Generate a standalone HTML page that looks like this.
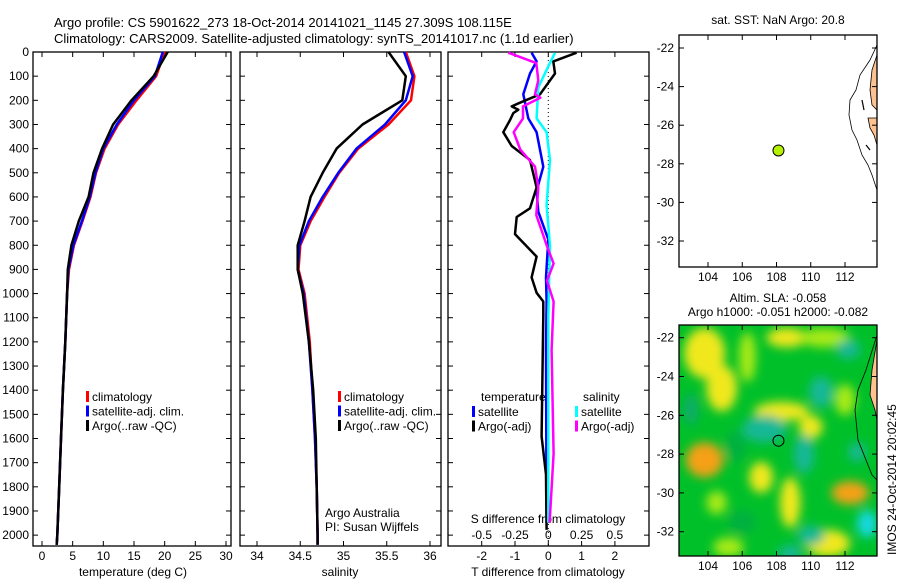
<!DOCTYPE html>
<html><head><meta charset="utf-8">
<style>
html,body{margin:0;padding:0;background:#fff;}
svg{display:block;font-family:"Liberation Sans",sans-serif;}
text{font-size:12px;fill:#000;}
</style></head>
<body>
<svg id="chart" width="900" height="580" viewBox="0 0 900 580" xmlns="http://www.w3.org/2000/svg">
<defs>
<filter id="blur" x="-20%" y="-20%" width="140%" height="140%"><feGaussianBlur stdDeviation="5"/></filter>
<clipPath id="clipMap2"><rect x="679" y="325" width="198" height="231"/></clipPath>
<clipPath id="clipMap1"><rect x="679" y="35" width="198" height="232"/></clipPath>
</defs>
<text x="54" y="27" style="font-size:13px">Argo profile: CS 5901622_273 18-Oct-2014 20141021_1145 27.309S 108.115E</text>
<text x="54" y="43" style="font-size:13px">Climatology: CARS2009. Satellite-adjusted climatology: synTS_20141017.nc (1.1d earlier)</text>
<g id="plots"></g>
<text transform="translate(896,555) rotate(-90)" style="font-size:12px">IMOS 24-Oct-2014 20:02:45</text>
</svg>
<script>
// ---- data ----
const depthTicks=[0,100,200,300,400,500,600,700,800,900,1000,1100,1200,1300,1400,1500,1600,1700,1800,1900,2000];
const tempTicks=[0,5,10,15,20,25,30];
const salTicks=[34,34.5,35,35.5,36];
const tdiffTicks=[-2,-1,0,1,2];
const sdiffTicks=[-0.5,-0.25,0,0.25,0.5];
const sdiffLabels=["-0.5","-0.25","0","0.25","0.5"];
const profDepth=[0,100,200,300,400,500,600,700,800,900,1000,1200,1400,1600,1800,2000,2040];
const tempClim=[20.0,18.6,15.4,12.4,10.2,8.8,7.9,6.6,5.2,4.4,4.1,3.8,3.4,3.1,2.8,2.5,2.4];
const tempSat=[19.7,18.4,15.0,12.2,10.0,8.7,7.8,6.5,5.1,4.3,4.1,3.8,3.4,3.1,2.8,2.5,2.4];
const tempArgo=[20.5,18.2,14.6,11.6,9.8,8.4,7.6,6.0,4.8,4.2,4.1,3.8,3.4,3.1,2.8,2.5,2.4];
const salClim=[35.72,35.82,35.78,35.52,35.17,34.95,34.78,34.62,34.5,34.48,34.55,34.61,34.64,34.67,34.69,34.7,34.7];
const salSat=[35.7,35.8,35.72,35.48,35.15,34.94,34.76,34.6,34.49,34.47,34.54,34.6,34.64,34.67,34.69,34.7,34.7];
const salArgo=[35.52,35.72,35.68,35.22,34.92,34.76,34.62,34.55,34.47,34.47,34.53,34.6,34.65,34.68,34.69,34.7,34.7];
const tArgoDepth=[3,39,89,175,210,225,239,253,282,332,389,447,561,647,683,754,847,933,997,1033,1090,1591,1749,1978];
const tArgoDiff=[0.85,0.15,0.2,-0.25,-0.85,-1.1,-0.9,-1.05,-1.15,-1.35,-1.1,-0.55,-0.35,-0.55,-0.95,-1.0,-0.35,-0.5,-0.35,-0.15,-0.15,-0.2,-0.07,-0.05];
const tSatDepth=[3,39,89,175,275,332,475,575,661,776,933,1033,1234,1949];
const tSatDiff=[-0.5,-0.35,-0.55,-0.75,-0.6,-0.35,-0.15,-0.35,-0.3,0,-0.07,-0.05,-0.07,-0.05];
const sArgoDepth=[3,46,117,175,189,225,275,332,404,475,561,675,804,876,947,1033,1234,1663,1949];
const sArgoDiff=[-0.3,-0.09,-0.075,-0.1,-0.06,-0.19,-0.19,-0.26,-0.21,-0.1,-0.075,-0.09,-0.01,0.04,-0.01,0.04,0.025,0.04,0.01];
const sSatDepth=[3,74,146,275,332,447,633,804,1090,1949];
const sSatDiff=[0.05,-0.0125,-0.075,-0.0875,-0.0125,0.0125,-0.0125,0.0125,0,0];
const lonTicks=[104,106,108,110,112];
const latTicks=[-22,-24,-26,-28,-30,-32];
const argoLon=108.115, argoLat=-27.309;
const slaLon=[103.8,104.8,103.8,106.3,108.3,110.0,107.1,108.8,112.3,111.0,105.2,108.6,110.8,112.0,107.3,109.6,110.6,112.2,112.7,113.3,110.0,108.8,103.0,105.6,104.5,106.0];
const slaLat=[-22.8,-24.6,-28.3,-23.0,-25.8,-26.6,-29.2,-30.5,-30.0,-32.6,-32.8,-22.0,-22.0,-25.2,-26.7,-28.0,-24.8,-22.6,-27.9,-31.6,-32.2,-33.1,-25.7,-27.6,-30.5,-31.5];
const slaVal=[0.65,0.7,1.0,0.35,0.6,0.6,0.6,0.55,1.0,0.65,0.35,0.55,0.4,0.3,-0.65,-0.7,-0.6,-0.6,-0.8,-1.0,-0.55,-0.6,-0.5,-0.2,0.3,-0.2];
const slaRx=[1.2,0.9,1.1,0.5,1.6,0.7,0.7,0.6,1.1,1.3,0.9,1.2,1.5,0.6,1.3,0.6,0.7,0.7,0.5,0.6,0.8,0.7,0.4,0.6,0.6,0.8];
const slaRy=[1.3,1.2,0.9,1.3,0.5,0.6,0.8,1.3,0.6,0.7,0.5,0.5,0.5,0.8,0.7,1.0,0.8,0.5,0.5,0.7,0.5,0.4,0.8,0.8,0.6,0.6];

// ---- helpers ----
const NS="http://www.w3.org/2000/svg";
const root=document.getElementById('plots');
function mk(tag,attrs,parent){const e=document.createElementNS(NS,tag);for(const k in attrs)e.setAttribute(k,attrs[k]);(parent||root).appendChild(e);return e;}
function txt(x,y,s,anchor,parent){const t=mk('text',{x:x,y:y,'text-anchor':anchor||'start'},parent);t.textContent=s;return t;}
const yTop=52,yBot=546,dMax=2045;
const yD=d=>yTop+d/dMax*(yBot-yTop);
function lin(d0,d1,p0,p1){return v=>p0+(v-d0)/(d1-d0)*(p1-p0);}
function line(xs,ds,xf,color,w,name,parent){
  const pts=xs.map((v,i)=>xf(v).toFixed(1)+','+yD(ds[i]).toFixed(1)).join(' ');
  const p=mk('polyline',{points:pts,fill:'none',stroke:color,'stroke-width':w,'stroke-linejoin':'round'},parent);
  
  
  return p;
}
function frame(x0,x1,name){
  const g=mk('g',{});
  
  
  mk('rect',{x:x0,y:yTop,width:x1-x0,height:yBot-yTop,fill:'none',stroke:'#000','stroke-width':1.3},g);
  depthTicks.forEach(d=>{mk('line',{x1:x0,x2:x0+5,y1:yD(d),y2:yD(d),stroke:'#000'},g);mk('line',{x1:x1,x2:x1-5,y1:yD(d),y2:yD(d),stroke:'#000'},g);});
  return g;
}
function legend(x,y,items,parent){
  items.forEach((it,i)=>{
    const yy=y+i*14.5;
    const b=mk('rect',{x:x,y:yy-10,width:3,height:11,fill:it[0]},parent);
    
    
    const t=txt(x+6,yy,it[1],'start',parent);
    
    
  });
}

// ---- panel 1: temperature ----
const xT=lin(0,30,42,226);
const g1=frame(33,231,'temperature-panel');
depthTicks.forEach(d=>{txt(29,yD(d)+4,String(d),'end',g1);});
tempTicks.forEach(v=>{mk('line',{x1:xT(v),x2:xT(v),y1:yBot,y2:yBot-5,stroke:'#000'},g1);mk('line',{x1:xT(v),x2:xT(v),y1:yTop,y2:yTop+5,stroke:'#000'},g1);txt(xT(v),560,String(v),'middle',g1);});
txt(133,576,'temperature (deg C)','middle',g1);
line(tempClim,profDepth,xT,'#f00',2.5,'temp-climatology-line',g1);
line(tempSat,profDepth,xT,'#00f',2.5,'temp-satellite-line',g1);
line(tempArgo,profDepth,xT,'#000',2.5,'temp-argo-line',g1);
legend(86,401,[['#f00','climatology'],['#00f','satellite-adj. clim.'],['#000','Argo(..raw -QC)']],g1);

// ---- panel 2: salinity ----
const xS=lin(34,36,257,430);
const g2=frame(240,441,'salinity-panel');
salTicks.forEach(v=>{mk('line',{x1:xS(v),x2:xS(v),y1:yBot,y2:yBot-5,stroke:'#000'},g2);mk('line',{x1:xS(v),x2:xS(v),y1:yTop,y2:yTop+5,stroke:'#000'},g2);txt(xS(v),560,String(v),'middle',g2);});
txt(340,576,'salinity','middle',g2);
line(salClim,profDepth,xS,'#f00',2.5,'sal-climatology-line',g2);
line(salSat,profDepth,xS,'#00f',2.5,'sal-satellite-line',g2);
line(salArgo,profDepth,xS,'#000',2.5,'sal-argo-line',g2);
legend(338,401,[['#f00','climatology'],['#00f','satellite-adj. clim.'],['#000','Argo(..raw -QC)']],g2);
txt(325,517,'Argo Australia','start',g2);
txt(325,531,'PI: Susan Wijffels','start',g2);

// ---- panel 3: differences ----
const xTd=lin(0,1,548.3,581.6);
const xSd=lin(0,0.25,548.3,581.6);
const g3=frame(448,649,'difference-panel');
mk('line',{x1:xTd(0),x2:xTd(0),y1:yTop,y2:yBot,stroke:'#000','stroke-dasharray':'1,3'},g3);
tdiffTicks.forEach(v=>{mk('line',{x1:xTd(v),x2:xTd(v),y1:yBot,y2:yBot-5,stroke:'#000'},g3);mk('line',{x1:xTd(v),x2:xTd(v),y1:yTop,y2:yTop+5,stroke:'#000'},g3);txt(xTd(v),560,String(v),'middle',g3);});
sdiffTicks.forEach((v,i)=>{txt(xSd(v),539,sdiffLabels[i],'middle',g3);});
txt(548,523,'S difference from climatology','middle',g3);
txt(548,576,'T difference from climatology','middle',g3);
line(tSatDiff,tSatDepth,xTd,'#00f',2.5,'tdiff-satellite-line',g3);
line(tArgoDiff,tArgoDepth,xTd,'#000',2.5,'tdiff-argo-line',g3);
line(sSatDiff,sSatDepth,xSd,'#0ff',2.5,'sdiff-satellite-line',g3);
line(sArgoDiff,sArgoDepth,xSd,'#f0f',2.5,'sdiff-argo-line',g3);
txt(481,401,'temperature','start',g3);
txt(583,401,'salinity','start',g3);
legend(472,416,[['#00f','satellite'],['#000','Argo(-adj)']],g3);
legend(575,416,[['#0ff','satellite'],['#f0f','Argo(-adj)']],g3);

// ---- maps ----
const xLon=lin(104,112,708,845);
function mapAxes(g,top,bot,y22,y32){
  const yLat=lin(-22,-32,y22,y32);
  latTicks.forEach(v=>{mk('line',{x1:679,x2:684,y1:yLat(v),y2:yLat(v),stroke:'#000'},g);mk('line',{x1:877,x2:872,y1:yLat(v),y2:yLat(v),stroke:'#000'},g);txt(674,yLat(v)+4,String(v),'end',g);});
  lonTicks.forEach(v=>{mk('line',{x1:xLon(v),x2:xLon(v),y1:bot,y2:bot-5,stroke:'#000'},g);mk('line',{x1:xLon(v),x2:xLon(v),y1:top,y2:top+5,stroke:'#000'},g);txt(xLon(v),bot+14,String(v),'middle',g);});
  return yLat;
}
// map 1
const m1=mk('g',{});


mk('rect',{x:679,y:35,width:198,height:232,fill:'#fff'},m1);
const c1=mk('g',{'clip-path':'url(#clipMap1)'},m1);
mk('path',{d:'M877,55 L872,70 L870,90 L872,105 L877,110 Z M877,118 L868,118 L870,128 L874,135 L877,145 Z',fill:'#fdc28f',stroke:'#000','stroke-width':0.8},c1);
mk('path',{d:'M877,45 L870,60 L860,75 L856,90 L850,100 L849,115 L852,130 L857,140 L862,155 L868,165 L872,175 L877,190',fill:'none',stroke:'#000','stroke-width':0.8},c1);
mk('path',{d:'M864,110 L862,100 M866,145 L870,150',fill:'none',stroke:'#000','stroke-width':1.2},c1);
const yLat1=mapAxes(m1,35,267,48,241);
mk('rect',{x:679,y:35,width:198,height:232,fill:'none',stroke:'#000','stroke-width':1.3},m1);
const dot=mk('circle',{cx:xLon(argoLon),cy:yLat1(argoLat),r:5.5,fill:'#b5f000',stroke:'#000','stroke-width':1},m1);


txt(778,24,'sat. SST: NaN Argo: 20.8','middle',m1);
txt(778,302,'Altim. SLA: -0.058','middle',m1);
txt(778,316,'Argo h1000: -0.051 h2000: -0.082','middle',m1);

// map 2
const m2=mk('g',{});


const yLat2=lin(-22,-32,337.7,531.7);
const c2=mk('g',{'clip-path':'url(#clipMap2)'},m2);
mk('rect',{x:679,y:325,width:198,height:232,fill:'#00c02a'},c2);
const bl=mk('g',{filter:'url(#blur)'},c2);
function slaColor(v){
  if(v>=0.9)return '#f5a015';
  if(v>=0.55)return '#f0e81c';
  if(v>=0.3)return '#a8ea18';
  if(v<=-0.9)return '#18d8e0';
  if(v<=-0.55)return '#14b896';
  if(v<=-0.4)return '#0aaa70';
  return '#05b040';
}
slaLon.forEach((lo,i)=>{
  const e=mk('ellipse',{cx:xLon(lo),cy:yLat2(slaLat[i]),rx:slaRx[i]*17.1,ry:slaRy[i]*19.4,fill:slaColor(slaVal[i])},bl);
  
  
});
mk('path',{d:'M877,340 L872,370 L870,395 L875,410 L877,420 Z',fill:'#fdc28f',stroke:'#000','stroke-width':0.8},c2);
mk('path',{d:'M877,335 L866,370 L858,390 L855,410 L858,440 L866,460 L872,475 L877,480',fill:'none',stroke:'#000','stroke-width':0.8},c2);
mapAxes(m2,325,556,337.7,531.7);
mk('rect',{x:679,y:325,width:198,height:231,fill:'none',stroke:'#000','stroke-width':1.3},m2);
const ring=mk('circle',{cx:xLon(argoLon),cy:yLat2(argoLat),r:5.5,fill:'none',stroke:'#000','stroke-width':1},m2);


</script>
</body></html>
